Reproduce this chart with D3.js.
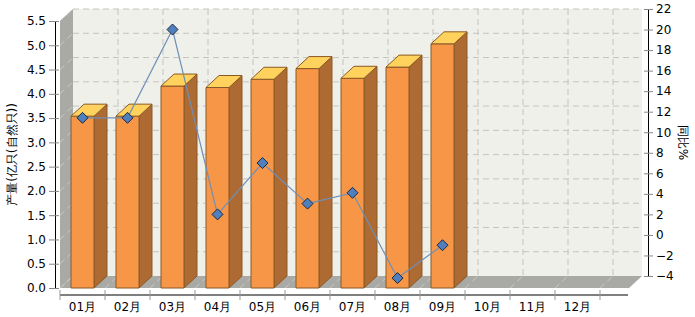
<!DOCTYPE html>
<html>
<head>
<meta charset="utf-8">
<script src="https://cdn.jsdelivr.net/npm/d3@7/dist/d3.min.js"></script>
<style>
  html, body { margin: 0; padding: 0; background: #fff; }
  svg { display: block; font-family: 'DejaVu Sans', Verdana, sans-serif; }
</style>
</head>
<body>
<div id="chart"></div>
<script>
// data
const months = ['01月', '02月', '03月', '04月', '05月', '06月', '07月', '08月', '09月', '10月', '11月', '12月']
const output = [3.54, 3.54, 4.16, 4.13, 4.30, 4.52, 4.32, 4.55, 5.03]   // 产量(亿只)
const growth = [11.4, 11.4, 20.0, 2.0, 7.0, 3.05, 4.1, -4.2, -1.0]     // 同比%
const leftTicks = [0, 0.5, 1, 1.5, 2, 2.5, 3, 3.5, 4, 4.5, 5, 5.5]
const rightTicks = [-4, -2, 0, 2, 4, 6, 8, 10, 12, 14, 16, 18, 20, 22]

const W = 695, H = 317
const dx = 13, dy = 12          // 3D depth offset
const front = { left: 60, right: 629, top: 21, bottom: 288 }

const svg = d3.select('#chart').append('svg').attr('width', W).attr('height', H)

const x = d3.scaleBand().domain(months).range([60, 600])
const yL = d3.scaleLinear().domain([0, 5.5]).range([front.bottom, front.top])
const yR = d3.scaleLinear().domain([-4, 22]).range([front.bottom - dy, front.top - dy])

const backL = front.left + dx, backR = front.right + dx
const backT = front.top - dy, backB = front.bottom - dy

// back wall
svg.append('rect')
  .attr('x', backL).attr('y', backT)
  .attr('width', backR - backL).attr('height', backB - backT)
  .attr('fill', '#f0f0ea')

// left wall
svg.append('path')
  .attr('d', `M${front.left},${front.top}L${backL},${backT}L${backL},${backB}L${front.left},${front.bottom}Z`)
  .attr('fill', '#a9aaa5')

// floor
svg.append('path')
  .attr('d', `M${front.left},${front.bottom}L${backL},${backB}L${backR},${backB}L${front.right},${front.bottom}Z`)
  .attr('fill', '#a9aaa5')

const grid = svg.append('g').attr('fill', 'none').attr('stroke-dasharray', '6,4')

// horizontal gridlines on back wall + diagonal on left wall
leftTicks.forEach(v => {
  if (v > 0) {
    grid.append('line')
      .attr('x1', backL).attr('x2', backR)
      .attr('y1', yL(v) - dy).attr('y2', yL(v) - dy)
      .attr('stroke', '#c4c4c0')
  }
  grid.append('line')
    .attr('x1', front.left).attr('y1', yL(v))
    .attr('x2', backL).attr('y2', yL(v) - dy)
    .attr('stroke', '#c9c9c5')
})

// vertical gridlines on back wall + diagonal on floor
const bounds = months.map(m => x(m)).concat([x.range()[1]])
bounds.forEach((bx, i) => {
  if (i > 0) {
    grid.append('line')
      .attr('x1', bx + dx).attr('x2', bx + dx)
      .attr('y1', backT).attr('y2', backB)
      .attr('stroke', '#c4c4c0')
  }
  grid.append('line')
    .attr('x1', bx).attr('y1', front.bottom)
    .attr('x2', bx + dx).attr('y2', backB)
    .attr('stroke', '#c9c9c5')
})

// 3D bars
const barW = 23
const bars = svg.append('g').attr('stroke', '#8a5a26').attr('stroke-width', 1).attr('stroke-linejoin', 'round')
output.forEach((v, i) => {
  const cx = x(months[i]) + x.bandwidth() / 2
  const x0 = cx - barW / 2, x1 = cx + barW / 2
  const yt = yL(v), yb = yL(0)
  bars.append('path')
    .attr('d', `M${x1},${yb}L${x1 + dx},${yb - dy}L${x1 + dx},${yt - dy}L${x1},${yt}Z`)
    .attr('fill', '#ad6a33')
  bars.append('rect')
    .attr('x', x0).attr('y', yt).attr('width', barW).attr('height', yb - yt)
    .attr('fill', '#f79646')
  bars.append('path')
    .attr('d', `M${x0},${yt}L${x0 + dx},${yt - dy}L${x1 + dx},${yt - dy}L${x1},${yt}Z`)
    .attr('fill', '#ffd25e')
})

// growth line
const line = d3.line()
  .x((d, i) => x(months[i]) + x.bandwidth() / 2)
  .y(d => yR(d))
svg.append('path')
  .datum(growth)
  .attr('d', line)
  .attr('fill', 'none')
  .attr('stroke', '#6f8fb8')
  .attr('stroke-width', 1.2)

svg.append('g').selectAll('path')
  .data(growth)
  .join('path')
  .attr('transform', (d, i) => `translate(${x(months[i]) + x.bandwidth() / 2},${yR(d)})`)
  .attr('d', 'M0,-5.5L5.5,0L0,5.5L-5.5,0Z')
  .attr('fill', '#4f7fbf')
  .attr('stroke', '#1e2a3c')
  .attr('stroke-width', 1)

// left axis
const gl = svg.append('g')
  .attr('transform', 'translate(55,0)')
  .call(d3.axisLeft(yL).tickValues(leftTicks).tickFormat(d3.format('.1f')).tickSize(6).tickSizeOuter(0).tickPadding(3))
gl.selectAll('.tick').append('line').attr('x2', 4).attr('stroke', 'currentColor')
gl.selectAll('.tick line').attr('stroke', '#888')
gl.select('.domain').attr('stroke', '#000')

// right axis
const gr = svg.append('g')
  .attr('transform', 'translate(648,0)')
  .call(d3.axisRight(yR).tickValues(rightTicks).tickSize(5).tickSizeOuter(0).tickPadding(3))
gr.selectAll('.tick').append('line').attr('x2', -4)
gr.selectAll('.tick line').attr('stroke', '#888')
gr.select('.domain').attr('stroke', '#000')

// bottom axis: labels in band centres, ticks on band boundaries
const gb = svg.append('g')
  .attr('transform', 'translate(0,295)')
  .call(d3.axisBottom(x).tickSize(0).tickPadding(7))
gb.select('.domain').remove()
gb.append('line').attr('x1', 60).attr('x2', 628).attr('stroke', '#000')
bounds.forEach(bx => {
  gb.append('line').attr('x1', bx).attr('x2', bx).attr('y1', -5).attr('y2', 5).attr('stroke', '#999')
})

svg.selectAll('.tick text').attr('font-size', 12).attr('fill', '#000').attr('font-family', "'DejaVu Sans', Verdana, sans-serif")

// axis titles
svg.append('text')
  .attr('transform', `translate(16,${(front.top + front.bottom) / 2}) rotate(-90)`)
  .attr('text-anchor', 'middle')
  .attr('font-size', 12)
  .text('产量(亿只(自然只))')

svg.append('text')
  .attr('transform', `translate(679,${(backT + backB) / 2}) rotate(90)`)
  .attr('text-anchor', 'middle')
  .attr('font-size', 12)
  .text('同比%')
</script>
</body>
</html>
